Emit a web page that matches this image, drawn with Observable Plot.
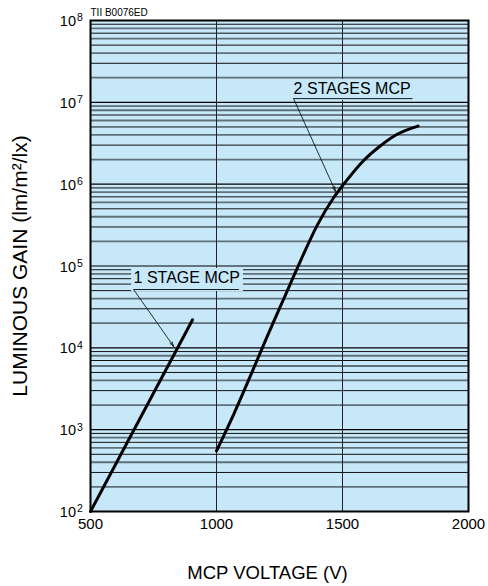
<!DOCTYPE html>
<html>
<head>
<meta charset="utf-8">
<script src="https://cdn.jsdelivr.net/npm/d3@7"></script>
<script src="https://cdn.jsdelivr.net/npm/@observablehq/plot@0.6"></script>
<style>
  html, body { margin: 0; padding: 0; background: #ffffff; }
  #chart svg { display: block; }
</style>
</head>
<body>
<div id="chart"></div>
<script>
// ---- data ----
const xTicks = [500, 1000, 1500, 2000];
const xGrid = [1000, 1500];
const yExponents = [2, 3, 4, 5, 6, 7, 8];

const stage1Voltage = [500, 905];
const stage1Gain = [100, 22000];

const stage2Voltage = [1000, 1070, 1135, 1200, 1267, 1333, 1400, 1466, 1505, 1584, 1651, 1717, 1800];
const stage2Gain = [550, 1585, 4570, 13490, 39800, 114800, 316000, 692000, 1000000, 1950000, 2950000, 4070000, 5130000];

const labelText = ["1 STAGE MCP", "2 STAGES MCP"];
const labelX = [671, 1306];
const labelY = [71300, 14750000];
const boxX1 = [663, 1294];
const boxX2 = [1107, 1794];
const boxY1 = [48800, 10500000];
const boxY2 = [93300, 19000000];
const underX1 = [671, 1306];
const underX2 = [1089, 1778];
const underY = [51600, 11100000];
const tipX = [830, 1472];
const tipY = [10400, 820000];

const xLabel = "MCP VOLTAGE (V)";
const yLabel = "LUMINOUS GAIN (lm/m²/lx)";
const refCode = "TII B0076ED";

// ---- derived tables ----
const stage1 = stage1Voltage.map((v, i) => ({v, g: stage1Gain[i]}));
const stage2 = stage2Voltage.map((v, i) => ({v, g: stage2Gain[i]}));
const labels = labelText.map((t, i) => ({
  t, x: labelX[i], y: labelY[i],
  bx1: boxX1[i], bx2: boxX2[i], by1: boxY1[i], by2: boxY2[i],
  ux1: underX1[i], ux2: underX2[i], uy: underY[i],
  ax: tipX[i], ay: tipY[i]
}));
const minor = [];
for (const e of yExponents.slice(0, -1)) {
  for (let k = 2; k <= 9; k++) minor.push({g: k * 10 ** e, even: k % 2 === 0});
}
const decades = yExponents.slice(1, -1).map(e => 10 ** e);

const bg = "#c6e8f8";

const chart = Plot.plot({
  width: 488,
  height: 586,
  marginLeft: 90,
  marginRight: 20,
  marginTop: 20,
  marginBottom: 75,
  style: {fontFamily: "'Liberation Sans', Arial, sans-serif", fontSize: "15px", color: "#000", background: "#fff"},
  x: {domain: [500, 2000], axis: null},
  y: {type: "log", domain: [100, 1e8], axis: null},
  marks: [
    Plot.frame({fill: bg}),
    Plot.ruleY(minor.filter(d => !d.even), {y: "g", stroke: "#111", strokeWidth: 1}),
    Plot.ruleY(minor.filter(d => d.even), {y: "g", stroke: "#5e707a", strokeWidth: 1.8}),
    Plot.ruleY(decades, {stroke: "#000", strokeWidth: 1.2}),
    Plot.ruleX(xGrid, {stroke: "#222", strokeWidth: 1}),
    // label boxes
    Plot.rect(labels, {x1: "bx1", x2: "bx2", y1: "by1", y2: "by2", fill: bg}),
    Plot.text(labels, {x: "x", y: "y", text: "t", textAnchor: "start", lineAnchor: "middle", fontSize: 16, fill: "#000"}),
    Plot.link(labels, {x1: "ux1", x2: "ux2", y1: "uy", y2: "uy", stroke: "#000", strokeWidth: 0.9}),
    Plot.arrow(labels, {x1: "ux1", y1: "uy", x2: "ax", y2: "ay", stroke: "#000", strokeWidth: 0.8, headLength: 9, headAngle: 30}),
    // curves
    Plot.line(stage1, {x: "v", y: "g", stroke: "#000", strokeWidth: 3}),
    Plot.line(stage2, {x: "v", y: "g", stroke: "#000", strokeWidth: 3, curve: "monotone-x"}),
    Plot.frame({stroke: "#000", strokeWidth: 2}),
    // axes
    Plot.axisX(xTicks, {tickSize: 0, tickPadding: 7, fontSize: 15, label: null, tickFormat: d => String(d)}),
    Plot.text(yExponents, {frameAnchor: "left", y: e => 10 ** e, text: () => "10", textAnchor: "end", lineAnchor: "middle", dx: -14.5, dy: 1, fontSize: 14.5, fill: "#000"}),
    Plot.text(yExponents, {frameAnchor: "left", y: e => 10 ** e, text: e => String(e), textAnchor: "start", lineAnchor: "middle", dx: -13.5, dy: -2.5, fontSize: 10.5, fill: "#000"}),
    Plot.text([xLabel], {frameAnchor: "bottom", textAnchor: "middle", lineAnchor: "middle", dx: -12, dy: 62, fontSize: 18.5, fill: "#000"}),
    Plot.text([yLabel], {frameAnchor: "left", textAnchor: "middle", lineAnchor: "middle", dx: -70, rotate: -90, fontSize: 21, fill: "#000"}),
    Plot.text([refCode], {frameAnchor: "top-left", textAnchor: "start", lineAnchor: "middle", dy: -7.5, fontSize: 10, fill: "#000"})
  ]
});
document.getElementById("chart").appendChild(chart);
</script>
</body>
</html>
